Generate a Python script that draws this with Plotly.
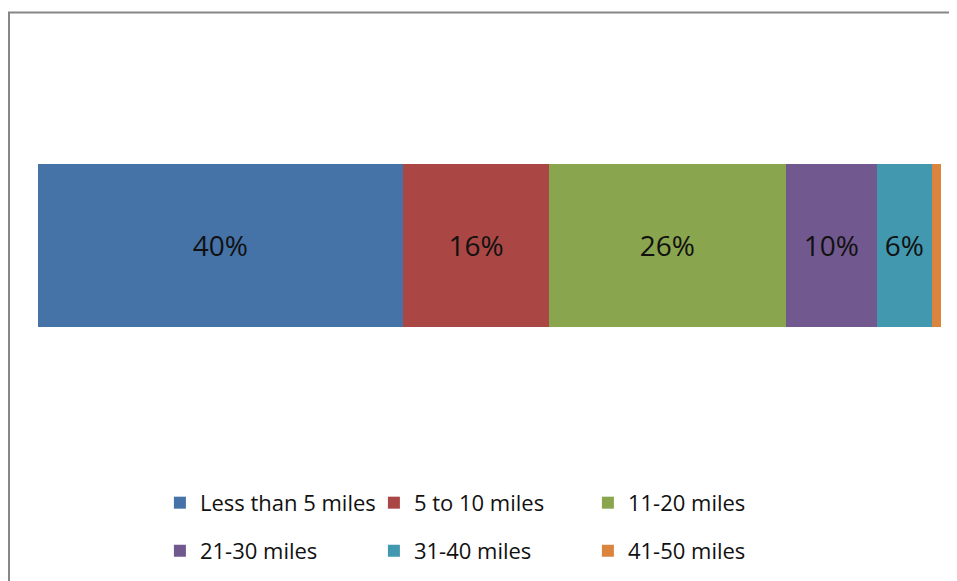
import plotly.graph_objects as go

categories = ["Less than 5 miles", "5 to 10 miles", "11-20 miles",
              "21-30 miles", "31-40 miles", "41-50 miles"]
values = [40.4, 16.2, 26.2, 10.1, 6.1, 1.0]
labels = ["40%", "16%", "26%", "10%", "6%", ""]
colors = ["#4572A7", "#AA4643", "#89A54E", "#71588F", "#4198AF", "#DB843D"]

fig = go.Figure()
for i, (name, v, lab, c) in enumerate(zip(categories, values, labels, colors)):
    fig.add_trace(go.Bar(
        x=[v], y=[0], name=name, orientation="h", width=1,
        marker=dict(color=c, line=dict(width=0)),
        text=[lab], textposition="inside", insidetextanchor="middle",
        textangle=0,
        textfont=dict(family="Open Sans", size=28, color="#111111"),
        legend="legend" if i < 3 else "legend2",
        hoverinfo="skip",
    ))

legend_font = dict(family="Open Sans", size=22, color="#111111")
fig.update_layout(
    barmode="stack",
    width=949, height=573,
    margin=dict(l=30, r=16, t=5, b=111),
    paper_bgcolor="white", plot_bgcolor="white",
    showlegend=True,
    uniformtext=dict(minsize=8, mode="show"),
    xaxis=dict(range=[0, sum(values)], visible=False, fixedrange=True),
    yaxis=dict(range=[-1.377, 1.426], visible=False, fixedrange=True),
    legend=dict(orientation="h", x=0.135, y=-0.026, xanchor="left", yanchor="top",
                traceorder="normal",
                entrywidth=169, entrywidthmode="pixels", font=legend_font,
                bgcolor="rgba(0,0,0,0)"),
    legend2=dict(orientation="h", x=0.135, y=-0.131, xanchor="left", yanchor="top",
                 traceorder="normal",
                 entrywidth=169, entrywidthmode="pixels", font=legend_font,
                 bgcolor="rgba(0,0,0,0)"),
    shapes=[
        dict(type="line", xref="paper", yref="paper", x0=-0.0321, x1=-0.0321,
             y0=1.0011, y1=-0.3, line=dict(color="#868686", width=2)),
        dict(type="line", xref="paper", yref="paper", x0=-0.0332, x1=1.03,
             y0=1.0011, y1=1.0011, line=dict(color="#868686", width=2)),
    ],
)

fig.write_html("out.html")
